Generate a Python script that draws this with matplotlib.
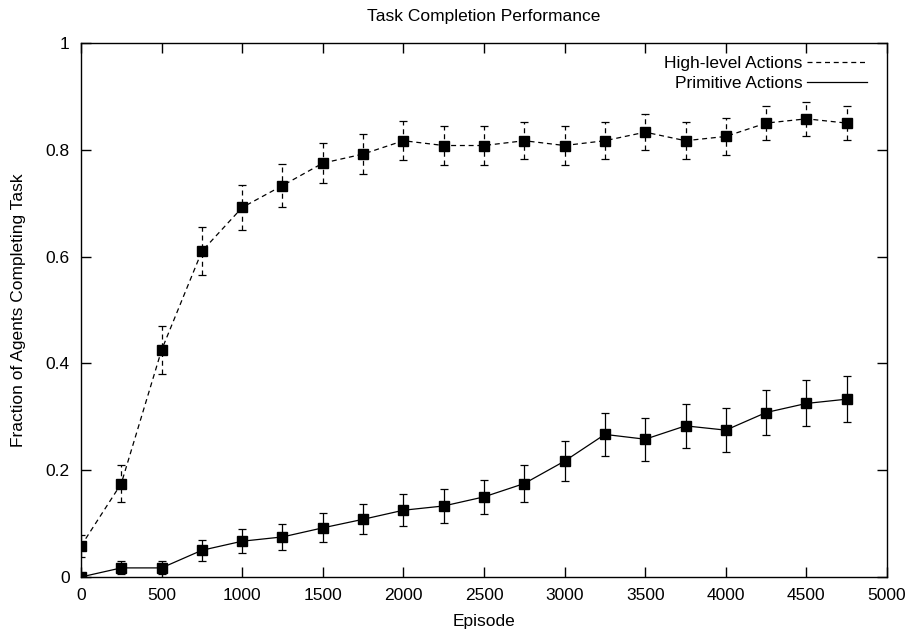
import numpy as np
import matplotlib
matplotlib.use("Agg")
import matplotlib.pyplot as plt
from matplotlib.lines import Line2D

plt.rcParams['font.family'] = ['Liberation Sans', 'DejaVu Sans']

episodes = [0, 250, 500, 750, 1000, 1250, 1500, 1750, 2000, 2250,
            2500, 2750, 3000, 3250, 3500, 3750, 4000, 4250, 4500, 4750]

# High-level actions
high_mean = [0.058, 0.175, 0.425, 0.610, 0.692, 0.733, 0.775, 0.792, 0.817, 0.808,
             0.808, 0.817, 0.808, 0.817, 0.833, 0.817, 0.825, 0.850, 0.858, 0.850]
high_err = [0.021, 0.034, 0.045, 0.045, 0.042, 0.040, 0.037, 0.037, 0.036, 0.036,
            0.036, 0.035, 0.036, 0.035, 0.034, 0.035, 0.034, 0.032, 0.032, 0.032]

# Primitive actions
prim_mean = [0.000, 0.017, 0.017, 0.050, 0.067, 0.075, 0.092, 0.108, 0.125, 0.133,
             0.150, 0.175, 0.217, 0.267, 0.258, 0.283, 0.275, 0.308, 0.325, 0.333]
prim_err = [0.000, 0.012, 0.012, 0.020, 0.022, 0.025, 0.027, 0.028, 0.030, 0.031,
            0.032, 0.035, 0.037, 0.040, 0.040, 0.041, 0.041, 0.042, 0.043, 0.043]

fs = 12.5

fig = plt.figure(figsize=(9.12, 6.36), dpi=100)
ax = fig.add_axes([0.0888, 0.0928, 0.8838, 0.8396])

# High-level: dashed line with dashed error bars
eb = ax.errorbar(episodes, high_mean, yerr=high_err, color='black', lw=0.9,
                 ls=(0, (4, 3)), marker='s', ms=6.5, mfc='black', mec='black',
                 capsize=3, elinewidth=0.9, capthick=0.9, zorder=3)
eb[2][0].set_linestyle((0, (4, 3)))

ax.errorbar(episodes, prim_mean, yerr=prim_err, color='black', lw=0.9,
            ls='-', marker='s', ms=6.5, mfc='black', mec='black',
            capsize=3, elinewidth=0.9, capthick=0.9, zorder=3)

ax.set_xlim(0, 5000)
ax.set_ylim(0, 1)
ax.set_xticks(np.arange(0, 5001, 500))
ax.set_yticks([0, 0.2, 0.4, 0.6, 0.8, 1])
ax.set_yticklabels(['0', '0.2', '0.4', '0.6', '0.8', '1'])
ax.tick_params(direction='in', top=True, right=True, length=7, width=1,
               labelsize=fs, pad=8)
for s in ax.spines.values():
    s.set_linewidth(1)

ax.set_xlabel('Episode', fontsize=fs, labelpad=8)
ax.set_ylabel('Fraction of Agents Completing Task', fontsize=fs, labelpad=14)
ax.set_title('Task Completion Performance', fontsize=fs, pad=16)

handles = [Line2D([], [], color='black', lw=0.9, ls=(0, (4, 3))),
           Line2D([], [], color='black', lw=0.9, ls='-')]
ax.legend(handles, ['High-level Actions', 'Primitive Actions'],
          loc='upper right', frameon=False, markerfirst=False, fontsize=fs,
          handlelength=3.45, handletextpad=0.25, labelspacing=0.3,
          borderpad=0, borderaxespad=0, bbox_to_anchor=(0.975, 0.976))

fig.savefig('out.png', dpi=100)
